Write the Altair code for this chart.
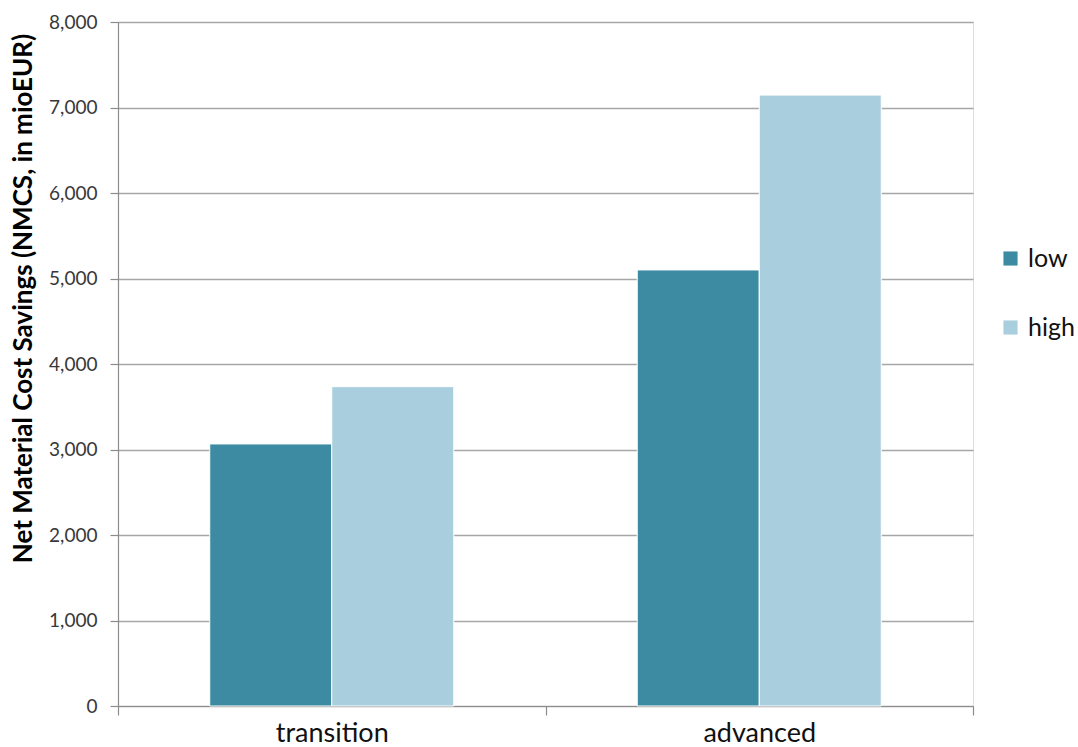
import altair as alt
import pandas as pd

scenarios = ["transition", "transition", "advanced", "advanced"]
levels = ["low", "high", "low", "high"]
values = [3065, 3735, 5100, 7145]

df = pd.DataFrame({"scenario": scenarios, "level": levels, "value": values})

FONT = "Lato"

bars = alt.Chart(df).mark_bar(stroke="white", strokeWidth=1).encode(
    x=alt.X("scenario:N", sort=["transition", "advanced"],
            scale=alt.Scale(paddingInner=0, paddingOuter=0),
            axis=alt.Axis(title=None, labelAngle=0, labelFontSize=27, labelColor="#111111",
                          labelFont=FONT, labelPadding=5, tickBand="extent", tickSize=9,
                          tickColor="#8c8c8c", domainColor="#8c8c8c", tickWidth=1.2,
                          domainWidth=1.2, grid=False)),
    xOffset=alt.XOffset("level:N", sort=["low", "high"],
                        scale=alt.Scale(paddingInner=0, paddingOuter=0.752)),
    y=alt.Y("value:Q", scale=alt.Scale(domain=[0, 8000], nice=False),
            axis=alt.Axis(title="Net Material Cost Savings (NMCS, in mioEUR)",
                          titleFont=FONT, titleFontSize=26, titleFontWeight="bold",
                          titleColor="#000000", titleAngle=-90, titleX=-95, titleY=276,
                          titleAlign="center", titleBaseline="middle",
                          values=list(range(0, 8001, 1000)), format=",.0f",
                          labelFont=FONT, labelFontSize=19, labelColor="#383838",
                          labelPadding=13, tickSize=8, tickColor="#8c8c8c", tickWidth=1.2,
                          domainColor="#8c8c8c", domainWidth=1.2,
                          gridColor="#a6a6a6", gridWidth=1.3)),
    color=alt.Color("level:N", sort=["low", "high"],
                    scale=alt.Scale(domain=["low", "high"], range=["#3c8ba2", "#a9cedd"]),
                    legend=alt.Legend(title=None, orient="none", legendX=880, legendY=224,
                                      symbolType="square", symbolSize=200, symbolStrokeWidth=0,
                                      labelFont=FONT, labelFontSize=25, labelColor="#111111",
                                      rowPadding=43, labelOffset=5)),
)

chart = bars.properties(
    width=855, height=684,
    autosize=alt.AutoSizeParams(type="none"),
    padding={"left": 118, "top": 22, "right": 105, "bottom": 41},
).configure_view(stroke=None).configure(background="white")

chart.save("out.html", embed_options={"renderer": "svg", "actions": False})
